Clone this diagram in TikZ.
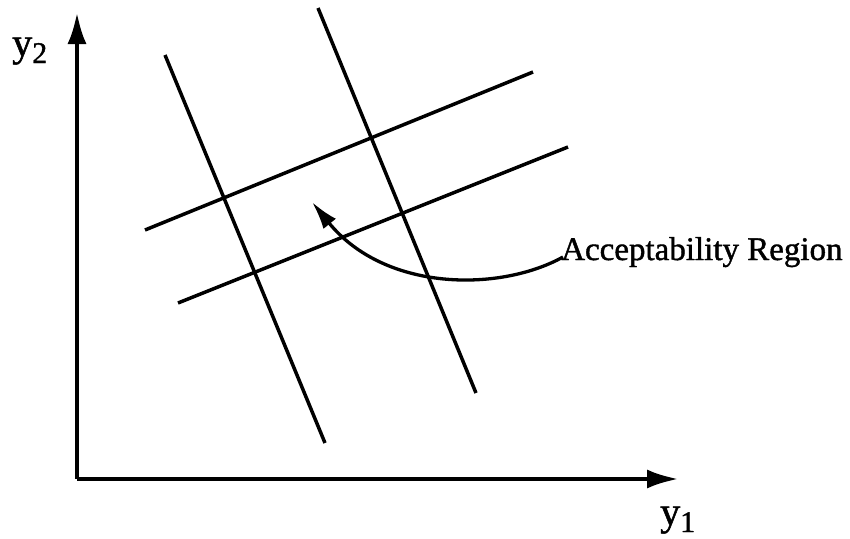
\documentclass[tikz,border=0pt]{standalone}
\usepackage{fontspec}
\setmainfont[FakeBold=1.2]{Liberation Serif}
\usetikzlibrary{arrows.meta}
\begin{document}
\begin{tikzpicture}[x=1pt,y=-1pt,
  axis/.style={line width=4.6pt,-{Latex[length=32pt,width=19pt]}},
  bound/.style={line width=3.5pt},
  pointer/.style={line width=3.3pt,-{Latex[length=28pt,width=16pt]}},
  lbl/.style={inner sep=0pt,font=\fontsize{33}{33}\selectfont}]
\useasboundingbox (0,0) rectangle (850,538);
% axes
\coordinate (o) at (77,479);
\coordinate (ytip) at (77,12);
\coordinate (xtip) at (679,479);
\draw[axis] (o) -- (ytip);
\draw[axis] (o) -- (xtip);
\node[anchor=base west,inner sep=0pt] (ylab) at (12,56) {\fontsize{40}{40}\selectfont y\raisebox{-7pt}{\fontsize{30}{30}\selectfont 2}};
\node[anchor=base west,inner sep=0pt] (xlab) at (660,525) {\fontsize{40}{40}\selectfont y\raisebox{-7pt}{\fontsize{30}{30}\selectfont 1}};
% boundary lines
\coordinate (a1) at (165,55);  \coordinate (a2) at (325,443);
\coordinate (b1) at (318,8);   \coordinate (b2) at (476,393);
\coordinate (c1) at (145,230); \coordinate (c2) at (533,72);
\coordinate (d1) at (178,303); \coordinate (d2) at (568,147);
\draw[bound] (a1) -- (a2);
\draw[bound] (b1) -- (b2);
\draw[bound] (c1) -- (c2);
\draw[bound] (d1) -- (d2);
% label and pointer
\node[lbl,anchor=base west] (lab) at (561,260) {Acceptability Region};
\coordinate (cs) at (563,257);
\coordinate (ct) at (312,202);
\draw[pointer] (cs) .. controls (500,292) and (385,292) .. (ct);
\end{tikzpicture}
\end{document}
